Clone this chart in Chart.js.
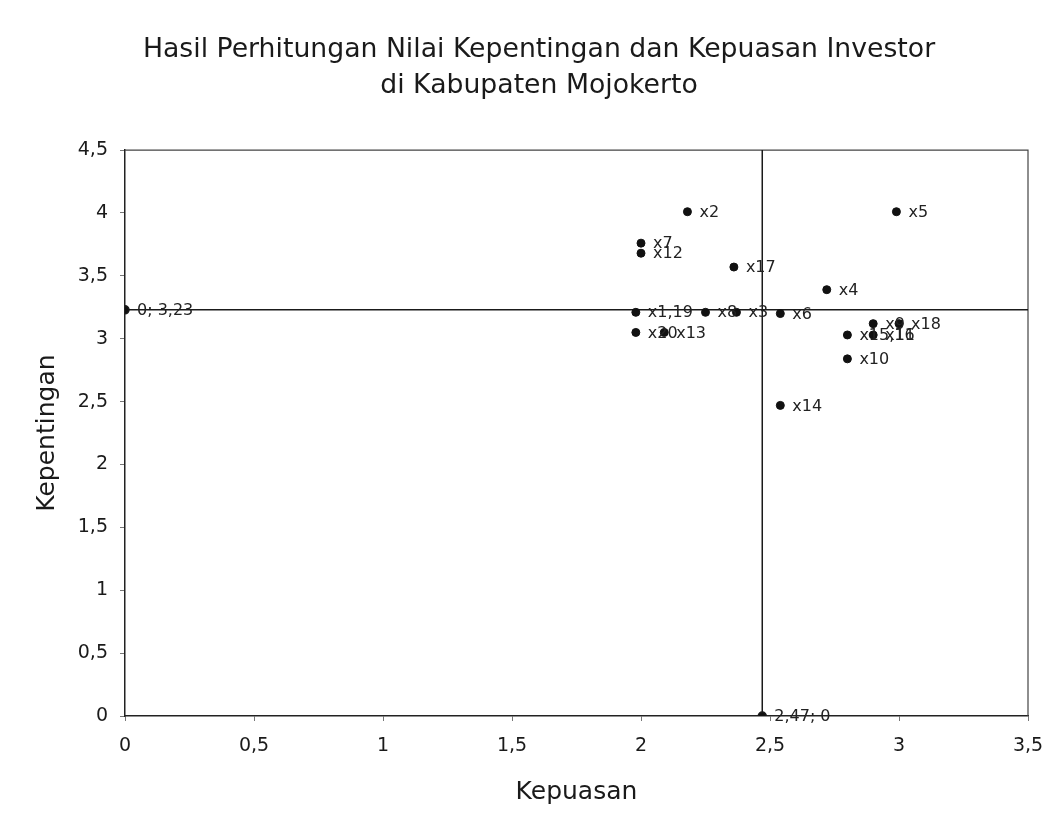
<!DOCTYPE html>
<html>
<head>
<meta charset="utf-8">
<script src="https://cdn.jsdelivr.net/npm/chart.js@4.4.1/dist/chart.umd.min.js"></script>
<style>
  body { margin: 0; background: #fff; }
  canvas { display: block; }
</style>
</head>
<body>
<canvas id="grafik" width="1049" height="827"></canvas>
<script>
// label titik (atribut) dan nilainya
const labelTitik = ['x1,19', 'x2', 'x3', 'x4', 'x5', 'x6', 'x7', 'x8', 'x9', 'x10', 'x11', 'x12', 'x13', 'x14', 'x15,16', 'x17', 'x18', 'x20'];
const kepuasan = [1.98, 2.18, 2.37, 2.72, 2.99, 2.54, 2.00, 2.25, 2.90, 2.80, 2.90, 2.00, 2.09, 2.54, 2.80, 2.36, 3.00, 1.98];
const kepentingan = [3.21, 4.01, 3.21, 3.39, 4.01, 3.20, 3.76, 3.21, 3.12, 2.84, 3.03, 3.68, 3.05, 2.47, 3.03, 3.57, 3.12, 3.05];

// rata-rata (garis kuadran)
const rataKepuasan = 2.47;
const rataKepentingan = 3.23;

const sumbuX = { min: 0, max: 3.5, step: 0.5 };
const sumbuY = { min: 0, max: 4.5, step: 0.5 };

const koma = v => String(v).replace('.', ',');

const titik = kepuasan.map((x, i) => ({ x: x, y: kepentingan[i] }));

// tulis label di samping setiap titik
const labelPlugin = {
  id: 'labelTitik',
  afterDatasetsDraw(chart) {
    const ctx = chart.ctx;
    ctx.save();
    ctx.font = '16px "DejaVu Sans"';
    ctx.fillStyle = '#222';
    ctx.textBaseline = 'middle';
    ctx.textAlign = 'left';
    chart.data.datasets.forEach((ds, i) => {
      if (!ds.labelTitik) return;
      chart.getDatasetMeta(i).data.forEach((el, j) => {
        const t = ds.labelTitik[j];
        if (t) ctx.fillText(t, el.x + 12, el.y + 1);
      });
    });
    ctx.restore();
  }
};

// garis atas dan kanan area plot
const bingkaiPlugin = {
  id: 'bingkai',
  beforeDatasetsDraw(chart) {
    const a = chart.chartArea;
    const ctx = chart.ctx;
    ctx.save();
    ctx.strokeStyle = '#444';
    ctx.lineWidth = 1.2;
    ctx.beginPath();
    ctx.moveTo(a.left, a.top);
    ctx.lineTo(a.right, a.top);
    ctx.lineTo(a.right, a.bottom);
    ctx.stroke();
    ctx.restore();
  }
};

const putih = {
  id: 'putih',
  beforeDraw(chart) {
    const ctx = chart.ctx;
    ctx.save();
    ctx.fillStyle = '#fff';
    ctx.fillRect(0, 0, chart.width, chart.height);
    ctx.restore();
  }
};

new Chart(document.getElementById('grafik').getContext('2d'), {
  type: 'scatter',
  data: {
    datasets: [
      {
        data: titik,
        labelTitik: labelTitik,
        backgroundColor: '#111',
        borderColor: '#111',
        pointRadius: 4,
        pointHoverRadius: 4
      },
      {
        data: [{ x: sumbuX.min, y: rataKepentingan }, { x: sumbuX.max, y: rataKepentingan }],
        labelTitik: [koma(sumbuX.min) + '; ' + koma(rataKepentingan), ''],
        showLine: true,
        borderColor: '#1a1a1a',
        borderWidth: 1.5,
        backgroundColor: '#111',
        pointRadius: [4, 0]
      },
      {
        data: [{ x: rataKepuasan, y: sumbuY.min }, { x: rataKepuasan, y: sumbuY.max }],
        labelTitik: [koma(rataKepuasan) + '; ' + koma(sumbuY.min), ''],
        showLine: true,
        borderColor: '#1a1a1a',
        borderWidth: 1.5,
        backgroundColor: '#111',
        pointRadius: [4, 0]
      }
    ]
  },
  options: {
    responsive: false,
    animation: false,
    layout: { padding: { left: 50, right: 21, top: 0, bottom: 0 } },
    plugins: {
      legend: { display: false },
      tooltip: { enabled: false },
      title: {
        display: true,
        text: ['Hasil Perhitungan Nilai Kepentingan dan Kepuasan Investor', 'di Kabupaten Mojokerto'],
        color: '#1a1a1a',
        font: { family: '"DejaVu Sans"', size: 26.7, weight: 'normal', lineHeight: 1.35 },
        padding: { top: 32, bottom: 46 }
      }
    },
    scales: {
      x: {
        type: 'linear',
        min: sumbuX.min,
        max: sumbuX.max,
        afterFit: s => { s.height = 111; s.paddingRight = 0; s.paddingLeft = 0; },
        ticks: {
          stepSize: sumbuX.step,
          color: '#1a1a1a',
          padding: 14,
          font: { family: '"DejaVu Sans"', size: 19 },
          callback: v => koma(v)
        },
        grid: { drawOnChartArea: false, drawTicks: true, tickLength: 5, color: '#777' },
        border: { display: true, color: '#222', width: 1.5 },
        title: {
          display: true,
          text: 'Kepuasan',
          color: '#1a1a1a',
          font: { family: '"DejaVu Sans"', size: 25 },
          padding: { top: 0, bottom: 20 }
        }
      },
      y: {
        type: 'linear',
        min: sumbuY.min,
        max: sumbuY.max,
        afterFit: s => { s.width = 75; },
        ticks: {
          stepSize: sumbuY.step,
          color: '#1a1a1a',
          padding: 12,
          font: { family: '"DejaVu Sans"', size: 19 },
          callback: v => koma(v)
        },
        grid: { drawOnChartArea: false, drawTicks: true, tickLength: 5, color: '#777' },
        border: { display: true, color: '#222', width: 1.5 },
        title: {
          display: true,
          text: 'Kepentingan',
          color: '#1a1a1a',
          font: { family: '"DejaVu Sans"', size: 25 },
          padding: { top: -18, bottom: 0 }
        }
      }
    }
  },
  plugins: [putih, bingkaiPlugin, labelPlugin]
});
</script>
</body>
</html>
